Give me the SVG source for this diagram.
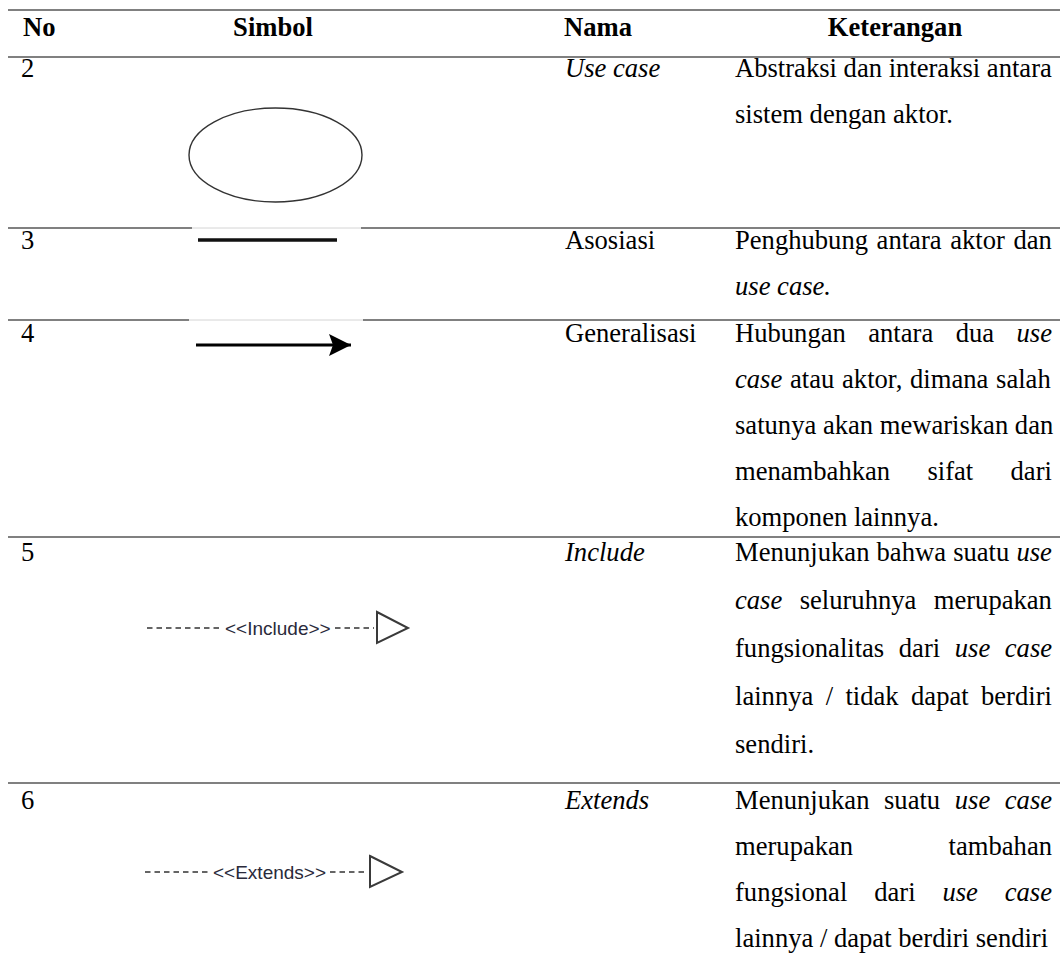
<svg xmlns="http://www.w3.org/2000/svg" width="1060" height="963" viewBox="0 0 1060 963">
  <style>
    .t{font-family:"Liberation Serif","Times New Roman",serif;font-size:26.6px;fill:#000}
    .b{font-weight:bold}
    .i{font-style:italic}
    .rule{stroke:#808080;stroke-width:2}
    .thin{stroke:#d4d4d4;stroke-width:1}
    .lbl{font-family:"Liberation Sans",Arial,sans-serif;font-size:19px;fill:#2a2a3a}
    .dash{stroke:#333;stroke-width:1.4;stroke-dasharray:5.5 4;fill:none}
    .tri{fill:#fff;stroke:#3a3a3a;stroke-width:2}
  </style>
  <defs>
    <marker id="gen-head" viewBox="0 0 22 22" refX="22" refY="11" markerWidth="22" markerHeight="22" markerUnits="userSpaceOnUse" orient="auto">
      <path d="M0,0 L22,11 L0,22 L4,11 Z" fill="#000"/>
    </marker>
  </defs>

  <rect width="1060" height="963" fill="#fff"/>

  <!-- table rules -->
  <g id="grid" class="rule">
    <line x1="8" y1="10" x2="1060" y2="10"/>
    <line x1="8" y1="57" x2="1060" y2="57"/>
    <line x1="8" y1="228" x2="192" y2="228"/>
    <line x1="361" y1="228" x2="1060" y2="228"/>
    <line x1="8" y1="320" x2="189" y2="320"/>
    <line x1="363" y1="320" x2="1060" y2="320"/>
    <line x1="8" y1="537" x2="1060" y2="537"/>
    <line x1="8" y1="783" x2="1060" y2="783"/>
  </g>
  <g id="grid-thin" class="thin">
    <line x1="192" y1="228" x2="361" y2="228"/>
    <line x1="189" y1="320" x2="363" y2="320"/>
  </g>

  <!-- header -->
  <g id="header" class="t b">
    <text x="23" y="36">No</text>
    <text x="273" y="36" text-anchor="middle">Simbol</text>
    <text x="564" y="36">Nama</text>
    <text x="895" y="36" text-anchor="middle">Keterangan</text>
  </g>

  <!-- row 2: use case -->
  <g id="row-usecase" class="t">
    <text x="21" y="77">2</text>
    <text x="565" y="77" class="i">Use case</text>
    <text x="735" y="77">Abstraksi dan interaksi antara</text>
    <text x="735" y="123">sistem dengan aktor.</text>
  </g>

  <!-- row 3: asosiasi -->
  <g id="row-asosiasi" class="t">
    <text x="21" y="249">3</text>
    <text x="565" y="249">Asosiasi</text>
    <text x="735" y="249" word-spacing="2">Penghubung antara aktor dan</text>
    <text x="735" y="295" class="i">use case.</text>
  </g>

  <!-- row 4: generalisasi -->
  <g id="row-generalisasi" class="t">
    <text x="21" y="342">4</text>
    <text x="565" y="342">Generalisasi</text>
    <text x="735" y="342" word-spacing="15.8">Hubungan antara dua <tspan class="i">use</tspan></text>
    <text x="735" y="388" word-spacing="1.1"><tspan class="i">case</tspan> atau aktor, dimana salah</text>
    <text x="735" y="434">satunya akan mewariskan dan</text>
    <text x="735" y="480" word-spacing="30.7">menambahkan sifat dari</text>
    <text x="735" y="526">komponen lainnya.</text>
  </g>

  <!-- row 5: include -->
  <g id="row-include" class="t">
    <text x="21" y="561">5</text>
    <text x="565" y="561" class="i">Include</text>
    <text x="735" y="561" word-spacing="0.5">Menunjukan bahwa suatu <tspan class="i">use</tspan></text>
    <text x="735" y="609" word-spacing="10.75"><tspan class="i">case</tspan> seluruhnya merupakan</text>
    <text x="735" y="657" word-spacing="7.95">fungsionalitas dari <tspan class="i">use case</tspan></text>
    <text x="735" y="705" word-spacing="5.75">lainnya / tidak dapat berdiri</text>
    <text x="735" y="753">sendiri.</text>
  </g>

  <!-- row 6: extends -->
  <g id="row-extends" class="t">
    <text x="21" y="809">6</text>
    <text x="565" y="809" class="i">Extends</text>
    <text x="735" y="809" word-spacing="7.95">Menunjukan suatu <tspan class="i">use case</tspan></text>
    <text x="735" y="855">merupakan</text>
    <text x="1052" y="855" text-anchor="end">tambahan</text>
    <text x="735" y="901" word-spacing="20.25">fungsional dari <tspan class="i">use case</tspan></text>
    <text x="735" y="947">lainnya / dapat berdiri sendiri</text>
  </g>

  <!-- symbol column drawings -->
  <g id="connectors">
    <ellipse id="sym-usecase" cx="275.5" cy="155" rx="86.5" ry="47" fill="none" stroke="#333" stroke-width="1.4"/>
    <line id="sym-asosiasi" x1="198" y1="240" x2="337" y2="240" stroke="#111" stroke-width="3.5"/>
    <line id="sym-generalisasi" x1="196" y1="345" x2="351" y2="345" stroke="#000" stroke-width="3.2" marker-end="url(#gen-head)"/>
    <g id="sym-include">
      <line class="dash" x1="147" y1="628" x2="223" y2="628"/>
      <text class="lbl" x="225" y="635">&lt;&lt;Include&gt;&gt;</text>
      <line class="dash" x1="335" y1="628" x2="374" y2="628"/>
      <polygon class="tri" points="377,612 408,628 377,643"/>
    </g>
    <g id="sym-extends">
      <line class="dash" x1="145" y1="872" x2="211" y2="872"/>
      <text class="lbl" x="213" y="879">&lt;&lt;Extends&gt;&gt;</text>
      <line class="dash" x1="330" y1="872" x2="368" y2="872"/>
      <polygon class="tri" points="370,856 402,872 370,887"/>
    </g>
  </g>
</svg>
